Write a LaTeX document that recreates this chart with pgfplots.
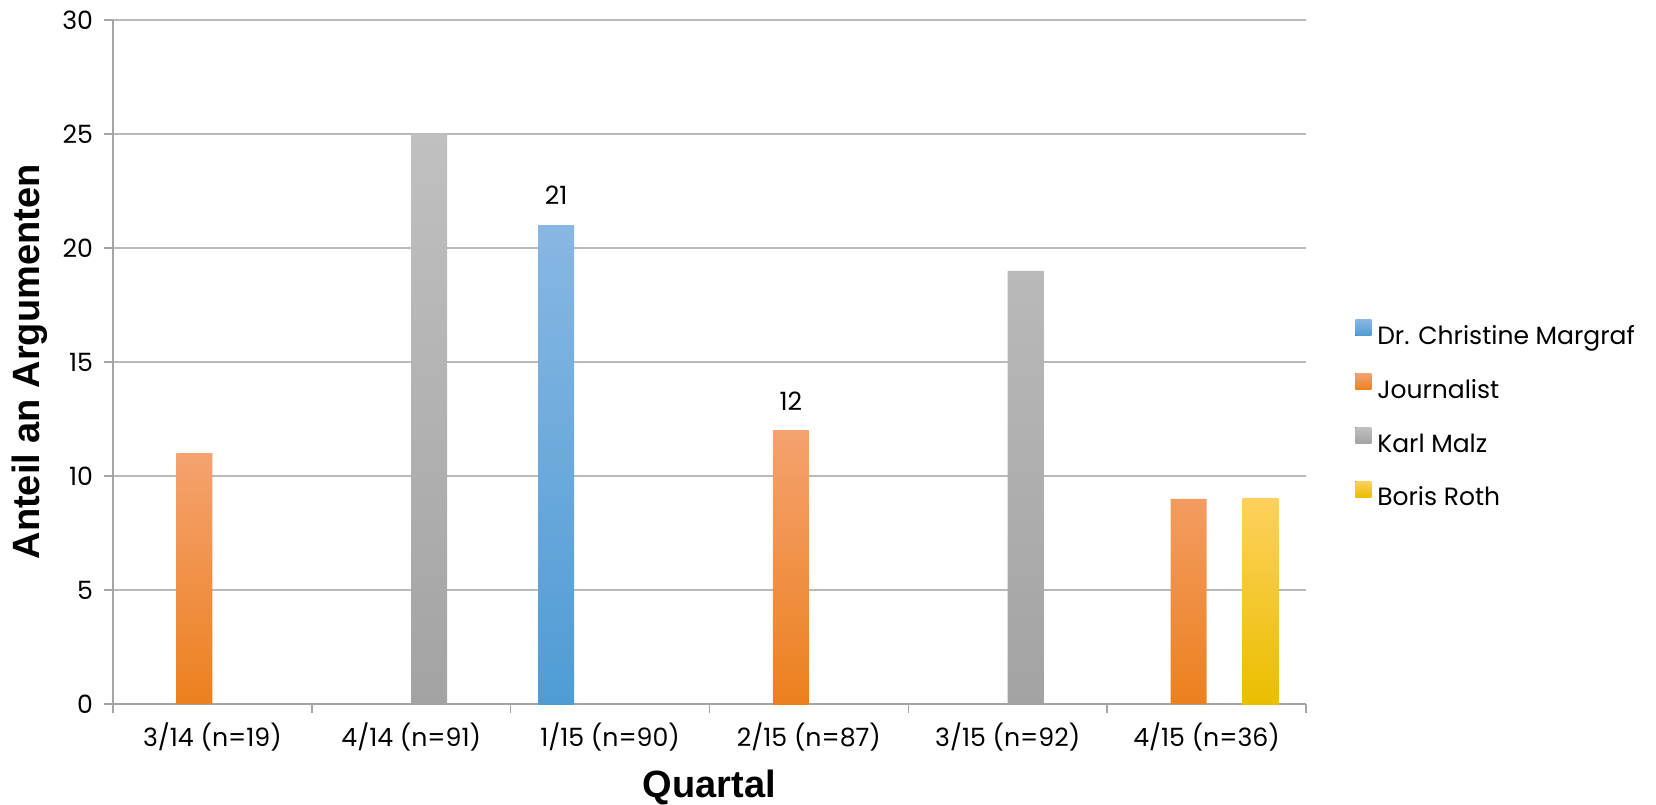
\documentclass[border=0pt]{standalone}
\usepackage{fontspec}
\setmainfont{Poppins}
\newfontfamily\titlefont{Liberation Sans}
\usepackage{pgfplots}
\pgfplotsset{compat=1.18}
\definecolor{gridgray}{RGB}{185,185,185}
\definecolor{axgray}{RGB}{165,165,165}
\definecolor{blueT}{RGB}{136,183,227}
\definecolor{blueB}{RGB}{79,156,213}
\definecolor{orT}{RGB}{245,162,112}
\definecolor{orM}{RGB}{249,146,60}
\definecolor{orB}{RGB}{236,128,30}
\definecolor{grT}{RGB}{192,192,192}
\definecolor{grB}{RGB}{163,163,163}
\definecolor{yeT}{RGB}{255,208,92}
\definecolor{yeM}{RGB}{255,207,0}
\definecolor{yeB}{RGB}{234,190,0}
\pgfplotsset{
  mybar/.style={ybar, bar width=0.181, draw=none,
    legend image code/.code={\fill[##1] (0pt,0.4pt) rectangle (8pt,8.4pt);}},
}
\begin{document}
\begin{tikzpicture}
\path[use as bounding box] (-56.5pt,-50pt) rectangle (771.5pt,352pt);
\begin{axis}[
  scale only axis, width=596.5pt, height=342pt,
  xmin=-0.5, xmax=5.5, ymin=0, ymax=30,
  axis x line=bottom, axis y line=left,
  axis line style={draw=axgray, line width=0.8pt, -},
  ytick={0,5,...,30},
  ymajorgrids, grid style={draw=gridgray, line width=0.8pt},
  xtick={-0.5,0.5,...,5.5}, xticklabels={},
  extra x ticks={0,1,2,3,4,5},
  extra x tick labels={3/14 (n=19), 4/14 (n=91), 1/15 (n=90), 2/15 (n=87), 3/15 (n=92), 4/15 (n=36)},
  extra x tick style={major tick length=0pt, xticklabel style={yshift=-6pt}},
  tick align=outside, major tick length=4.5pt,
  tick style={draw=axgray, line width=0.8pt},
  tick label style={font=\fontsize{12.6}{15}\selectfont, text=black},
  /pgf/number format/assume math mode=true,
  yticklabel style={xshift=-2pt},
  every axis y label/.style={at={(axis description cs:0,0.5)}, xshift=-41.5pt, rotate=90, anchor=center},
  every axis x label/.style={at={(axis description cs:0.5,0)}, yshift=-41.5pt, anchor=center},
  ylabel={\titlefont\bfseries\fontsize{19}{22}\selectfont Anteil an Argumenten},
  xlabel={\titlefont\bfseries\fontsize{19}{22}\selectfont Quartal},
  legend style={draw=none, fill=none, at={(1.041,0.42)}, anchor=west, inner sep=0pt,
    font=\fontsize{12.5}{15}\selectfont, row sep=10.5pt,
    /tikz/every odd column/.append style={column sep=3pt},
    nodes={inner sep=0pt, text height=12pt, text depth=4pt, anchor=west}},
  legend cell align=left,
  nodes near coords style={font=\fontsize{12.6}{15}\selectfont, anchor=south, inner sep=0pt, yshift=10pt, text=black},
]
\addplot[mybar, bar shift=-0.2715, top color=blueT, bottom color=blueB, nodes near coords,
  nodes near coords style={xshift=-27pt}]
  coordinates {(2,21)};
\addlegendentry{Dr. Christine Margraf}
\addplot[mybar, bar shift=-0.0905, top color=orT, middle color=orM, bottom color=orB]
  coordinates {(0,11) (5,9)};
\addlegendentry{Journalist}
\addplot[mybar, bar shift=0.0905, top color=grT, bottom color=grB]
  coordinates {(1,25) (4,19)};
\addlegendentry{Karl Malz}
\addplot[mybar, bar shift=0.2715, top color=yeT, middle color=yeM, bottom color=yeB]
  coordinates {(5,9)};
\addlegendentry{Boris Roth}
\addplot[mybar, bar shift=-0.0905, top color=orT, middle color=orM, bottom color=orB, nodes near coords,
  nodes near coords style={xshift=-9pt}, forget plot]
  coordinates {(3,12)};
\end{axis}
\end{tikzpicture}
\end{document}
